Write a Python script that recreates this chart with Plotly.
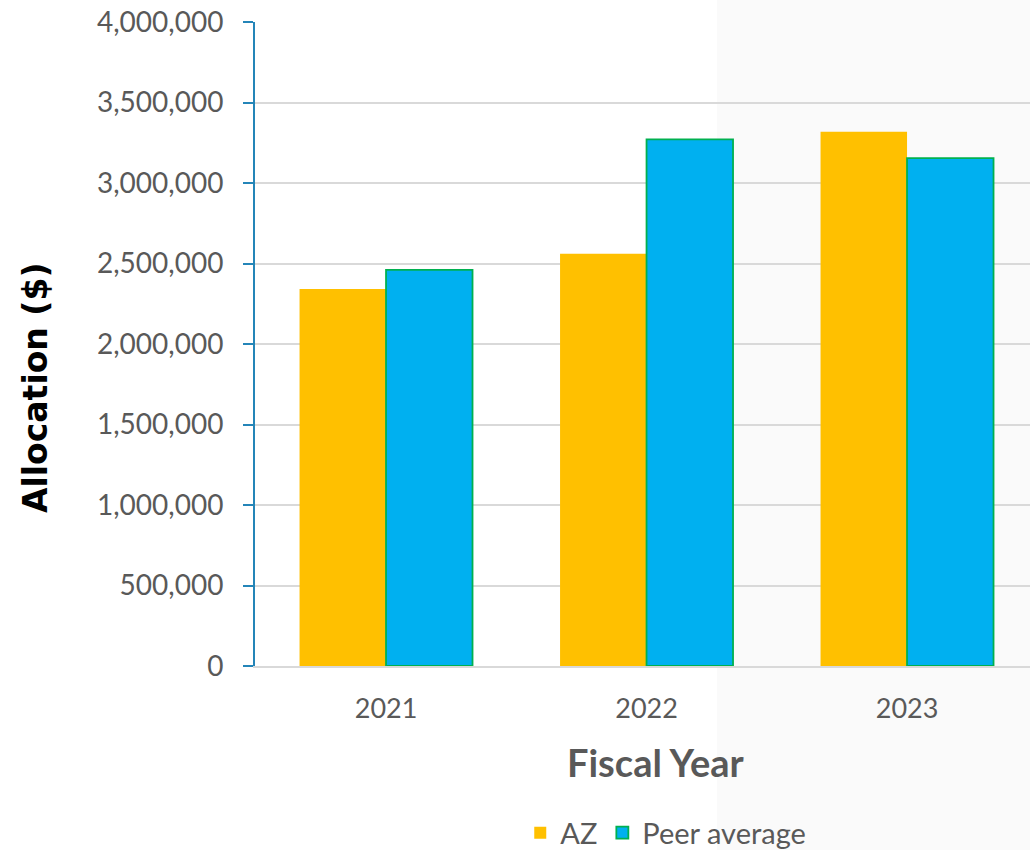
import plotly.graph_objects as go

# Fiscal-year allocations, AZ vs. peer average
years = ["2021", "2022", "2023"]
az_alloc = [2341000, 2561000, 3319000]
peer_alloc = [2461000, 3271000, 3154000]
y_ticks = [0, 500000, 1000000, 1500000, 2000000, 2500000, 3000000, 3500000, 4000000]

TEXT_GREY = "#595959"
TICK_FONT = "Lato"

fig = go.Figure()
fig.add_trace(go.Bar(
    name="AZ", x=years, y=az_alloc,
    marker=dict(color="#FFC000", line=dict(width=0)),
))
fig.add_trace(go.Bar(
    name="Peer average", x=years, y=peer_alloc,
    marker=dict(color="#00B0F0", line=dict(color="#00B050", width=1.8)),
))

# light panel behind the right-hand part of the figure
fig.add_shape(
    type="rect", xref="paper", yref="paper",
    x0=0.596, x1=1.2, y0=-0.5, y1=1.2,
    fillcolor="#FAFAFA", line=dict(width=0), layer="below",
)

# axis titles
fig.add_annotation(
    text="<b>Allocation ($)</b>", xref="paper", yref="paper",
    x=-0.284, y=0.433, xanchor="center", yanchor="middle",
    textangle=-90, showarrow=False,
    font=dict(family="DejaVu Sans", size=33, color="black"),
)
fig.add_annotation(
    text="<b>Fiscal Year</b>", xref="paper", yref="paper",
    x=0.517, y=-0.149, xanchor="center", yanchor="middle",
    showarrow=False,
    font=dict(family=TICK_FONT, size=38, color=TEXT_GREY),
)

fig.update_layout(
    width=1030, height=850,
    margin=dict(l=255, r=0, t=22, b=184, autoexpand=False),
    paper_bgcolor="white", plot_bgcolor="white",
    barmode="group", bargap=0.336, bargroupgap=0,
    showlegend=True,
    legend=dict(
        orientation="h", x=0.53, xanchor="center", y=-0.259, yanchor="middle",
        font=dict(family=TICK_FONT, size=29, color=TEXT_GREY),
        bgcolor="rgba(0,0,0,0)", itemwidth=30, traceorder="normal",
    ),
    xaxis=dict(
        type="category", range=[-0.503, 2.472],
        showline=True, linecolor="#D9D9D9", linewidth=2,
        ticks="", showgrid=False, ticklabelstandoff=18,
        tickfont=dict(family=TICK_FONT, size=27, color=TEXT_GREY),
    ),
    yaxis=dict(
        range=[0, 4000000], tickvals=y_ticks,
        tickformat=",d",
        showline=True, linecolor="#2485B8", linewidth=2,
        ticks="outside", ticklen=10, tickcolor="#2485B8", tickwidth=2,
        ticklabelstandoff=14,
        showgrid=True, gridcolor="#D9D9D9", gridwidth=2,
        zeroline=False,
        tickfont=dict(family=TICK_FONT, size=28, color=TEXT_GREY),
    ),
)

fig.write_html("out.html")
